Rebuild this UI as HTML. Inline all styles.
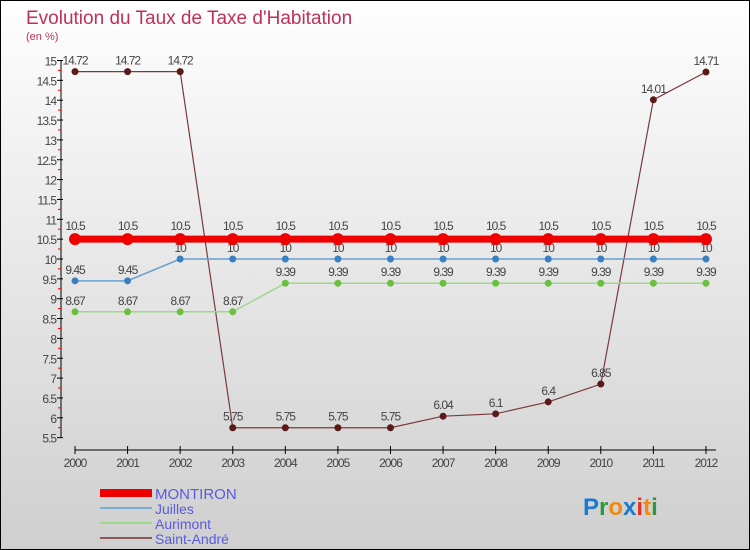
<!DOCTYPE html>
<html><head><meta charset="utf-8"><style>
body{margin:0;}
#c{width:750px;height:550px;position:relative;box-sizing:border-box;border:1px solid #000;background:linear-gradient(#fefefe,#cfcfcf);font-family:"Liberation Sans",sans-serif;overflow:hidden}
</style></head><body>
<div id="c">
<svg id="s" width="750" height="550" style="position:absolute;left:-1px;top:-1px">
<text x="26" y="24" font-size="19" fill="#c0305a">Evolution du Taux de Taxe d'Habitation</text>
<text x="26" y="40" font-size="11" fill="#c0305a">(en %)</text>
<g id="axes"></g><g id="series"></g>
<g>
<rect x="100" y="489" width="52" height="8" fill="#ee0000"/>
<text x="155" y="499" font-size="15" fill="#5a5ae0">MONTIRON</text>
<rect x="100" y="507" width="52" height="2" fill="#7aaed0"/>
<text x="155" y="514" font-size="14" fill="#5a5ae0">Juilles</text>
<rect x="100" y="522" width="52" height="2" fill="#9ed88a"/>
<text x="155" y="529" font-size="14" fill="#5a5ae0">Aurimont</text>
<rect x="100" y="537" width="52" height="2" fill="#8a5a5a"/>
<text x="155" y="544" font-size="14" fill="#5a5ae0">Saint-André</text>
</g>
<text x="583" y="515" font-size="24" font-weight="bold"><tspan fill="#1a7ad0">P</tspan><tspan fill="#2a9a3a">r</tspan><tspan fill="#f08a10">o</tspan><tspan fill="#1a7ad0">x</tspan><tspan fill="#e83020">i</tspan><tspan fill="#f08a10">t</tspan><tspan fill="#2a9a3a">i</tspan></text>
</svg>
</div>
<script>
const years=[2000,2001,2002,2003,2004,2005,2006,2007,2008,2009,2010,2011,2012];
const montiron=[10.5,10.5,10.5,10.5,10.5,10.5,10.5,10.5,10.5,10.5,10.5,10.5,10.5];
const juilles=[9.45,9.45,10,10,10,10,10,10,10,10,10,10,10];
const aurimont=[8.67,8.67,8.67,8.67,9.39,9.39,9.39,9.39,9.39,9.39,9.39,9.39,9.39];
const saintAndre=[14.72,14.72,14.72,5.75,5.75,5.75,5.75,6.04,6.1,6.4,6.85,14.01,14.71];
const saLabels=["14.72","14.72","14.72","5.75","5.75","5.75","5.75","6.04","6.1","6.4","6.85","14.01","14.71"];
const yTicks=[5.5,6,6.5,7,7.5,8,8.5,9,9.5,10,10.5,11,11.5,12,12.5,13,13.5,14,14.5,15];
const NS="http://www.w3.org/2000/svg";
const X=i=>75+i*52.58;
const Y=v=>259-(v-10)*39.7;
function mk(t,a,p){const e=document.createElementNS(NS,t);for(const k in a)e.setAttribute(k,a[k]);p.appendChild(e);return e;}
const ax=document.getElementById('axes'),sr=document.getElementById('series');
let l=mk('line',{x1:61,y1:Y(15),x2:61,y2:Y(5.5),stroke:'#000'},ax);


yTicks.forEach(v=>{
 mk('line',{x1:57,y1:Y(v),x2:63,y2:Y(v),stroke:'#000'},ax);
 mk('line',{x1:58,y1:Y(v)+9.9,x2:61,y2:Y(v)+9.9,stroke:v>5.5?'#e00':'none'},ax);
 const t=mk('text',{x:56,y:Y(v)+5,'font-size':12,'text-anchor':'end',fill:'#444','letter-spacing':'-1'},ax);
 t.textContent=String(v);
 
 
});
l=mk('line',{x1:75,y1:450,x2:X(12)+10,y2:450,stroke:'#000'},ax);


years.forEach((y,i)=>{
 mk('line',{x1:X(i),y1:446,x2:X(i),y2:454,stroke:'#000'},ax);
 const t=mk('text',{x:X(i),y:467,'font-size':12,'text-anchor':'middle',fill:'#444','letter-spacing':'-1'},ax);
 t.textContent=y;
 
 
});
function series(name,vals,labels,color,lw,r,dot,dy){
 const g=mk('g',{},sr);
 
 
 mk('polyline',{points:vals.map((v,i)=>X(i)+','+Y(v)).join(' '),fill:'none',stroke:color,'stroke-width':lw},g);
 vals.forEach((v,i)=>{
  const c=mk('circle',{cx:X(i),cy:Y(v),r:r,fill:dot},g);
  
  
  const t=mk('text',{x:X(i),y:Y(v)+dy,'font-size':12,'text-anchor':'middle',fill:'#444','letter-spacing':'-1'},g);
  t.textContent=labels?labels[i]:String(v);
  
  
 });
}
series('saint-andre',saintAndre,saLabels,'#7a3a3a',1.2,3.5,'#5a1a1a',-7);
series('aurimont',aurimont,null,'#9ed88a',1.5,3.5,'#6cc040',-7);
series('juilles',juilles,null,'#6aa0d0',1.5,3.5,'#3a80c0',-7);
series('montiron',montiron,null,'#ee0000',7,6,'#ee0000',-9);
</script>
</body></html>
